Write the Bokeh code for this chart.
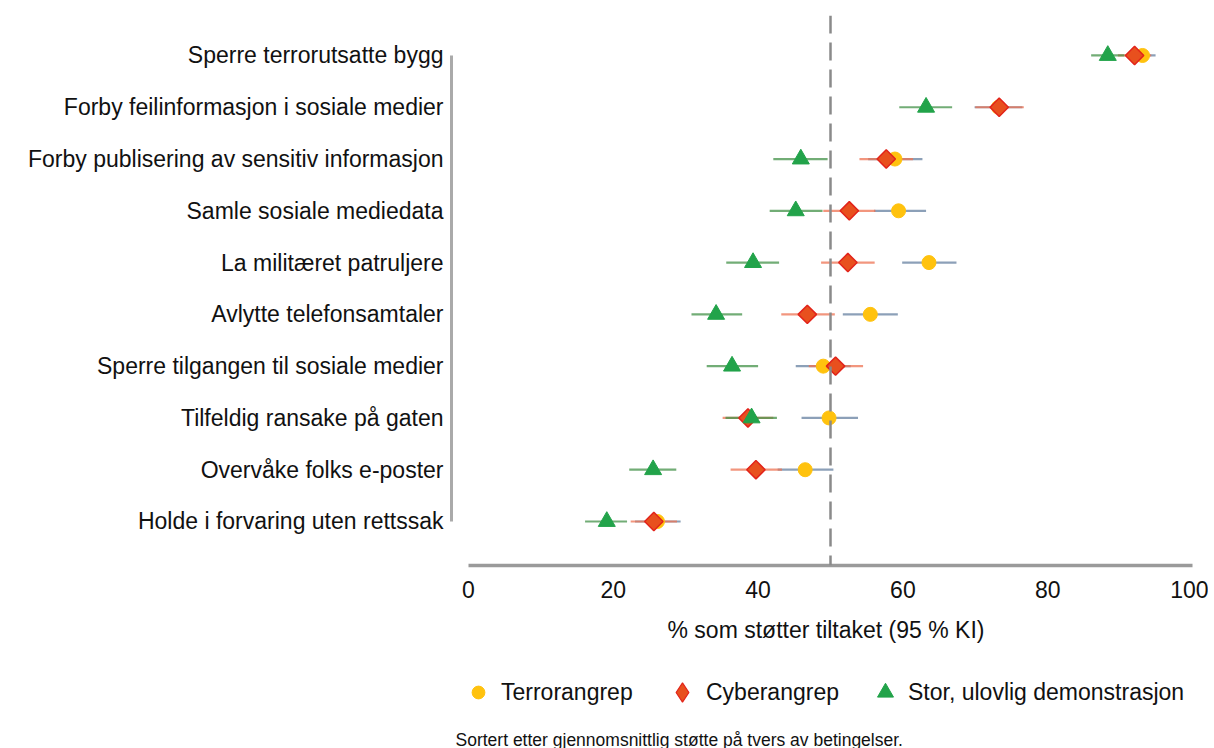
import numpy as np
from bokeh.plotting import figure
from bokeh.layouts import column
from bokeh.models import (Range1d, Span, Legend, LegendItem, FixedTicker, Label,
                          ColumnDataSource)
from bokeh.embed import file_html
from bokeh.resources import INLINE

categories = [
    "Sperre terrorutsatte bygg",
    "Forby feilinformasjon i sosiale medier",
    "Forby publisering av sensitiv informasjon",
    "Samle sosiale mediedata",
    "La militæret patruljere",
    "Avlytte telefonsamtaler",
    "Sperre tilgangen til sosiale medier",
    "Tilfeldig ransake på gaten",
    "Overvåke folks e-poster",
    "Holde i forvaring uten rettssak",
]
terror = [93.1, 73.2, 58.9, 59.4, 63.6, 55.5, 49.0, 49.8, 46.5, 26.1]
terror_lo = [91.3, 69.9, 55.2, 56.0, 59.9, 51.7, 45.2, 46.0, 42.7, 23.0]
terror_hi = [94.9, 76.5, 62.7, 63.2, 67.4, 59.3, 52.8, 53.8, 50.4, 29.3]
cyber = [92.0, 73.3, 57.7, 52.6, 52.4, 46.8, 50.7, 38.6, 39.7, 25.6]
cyber_lo = [89.7, 70.0, 54.0, 49.0, 48.7, 43.2, 47.0, 35.1, 36.2, 22.4]
cyber_hi = [94.3, 76.7, 61.4, 56.2, 56.1, 50.6, 54.5, 42.1, 43.3, 28.8]
demo = [88.3, 63.2, 45.9, 45.2, 39.3, 34.2, 36.4, 39.1, 25.5, 19.1]
demo_lo = [86.0, 59.5, 42.1, 41.6, 35.6, 30.8, 32.9, 35.5, 22.2, 16.1]
demo_hi = [90.6, 66.8, 49.6, 48.9, 42.9, 37.8, 40.0, 42.6, 28.7, 21.9]
series_names = ["Terrorangrep", "Cyberangrep", "Stor, ulovlig demonstrasjon"]
x_ticks = [0, 20, 40, 60, 80, 100]
footnote = "Sortert etter gjennomsnittlig støtte på tvers av betingelser."

n = len(categories)
ypos = list(range(n, 0, -1))
FONT = "Liberation Sans"
TXT = "#111111"
C_TERROR, C_CYBER, C_CYBER_LINE, C_DEMO = "#FFC20E", "#E8501E", "#E2231A", "#22A34A"

p = figure(width=1208, height=655, output_backend="svg", toolbar_location=None,
           x_range=Range1d(-2.348, 101.105), y_range=Range1d(0.150, 10.772),
           min_border_left=451, min_border_top=15, min_border_right=8,
           min_border_bottom=90)
p.outline_line_color = None
p.grid.visible = False

src = ColumnDataSource(dict(y=ypos, terror=terror, terror_lo=terror_lo, terror_hi=terror_hi,
                            cyber=cyber, cyber_lo=cyber_lo, cyber_hi=cyber_hi,
                            demo=demo, demo_lo=demo_lo, demo_hi=demo_hi))

p.add_layout(Span(location=50, dimension="height", line_color="#8a8a8a",
                  line_width=2.5, line_dash="18 9"))

p.segment(x0="terror_lo", x1="terror_hi", y0="y", y1="y", source=src,
          line_color="#6680a0", line_alpha=0.75, line_width=2.2)
p.segment(x0="cyber_lo", x1="cyber_hi", y0="y", y1="y", source=src,
          line_color="#ee7353", line_alpha=0.75, line_width=2.2)
p.segment(x0="demo_lo", x1="demo_hi", y0="y", y1="y", source=src,
          line_color="#439248", line_alpha=0.75, line_width=2.2)

p.scatter(x="terror", y="y", source=src, marker="circle", size=14,
          fill_color=C_TERROR, line_color=C_TERROR)
p.scatter(x="cyber", y="y", source=src, marker="square", angle=np.pi / 4, size=13,
          fill_color=C_CYBER, line_color=C_CYBER_LINE, line_width=1.5)
p.scatter(x="demo", y="y", source=src, marker="triangle", size=17,
          fill_color=C_DEMO, line_color=C_DEMO)

# axes
p.yaxis.ticker = FixedTicker(ticks=ypos)
p.yaxis.major_label_overrides = {y: c for y, c in zip(ypos, categories)}
p.yaxis.bounds = (1, 10)
p.yaxis.axis_line_color = "#aaaaaa"
p.yaxis.axis_line_width = 3
p.yaxis.major_tick_line_color = None
p.yaxis.minor_tick_line_color = None
p.yaxis.major_label_standoff = 2
p.yaxis.major_label_text_font = FONT
p.yaxis.major_label_text_font_size = "23px"
p.yaxis.major_label_text_color = TXT

p.xaxis.ticker = FixedTicker(ticks=x_ticks)
p.xaxis.bounds = (0, 100)
p.xaxis.axis_line_color = "#9a9a9a"
p.xaxis.axis_line_width = 3.5
p.xaxis.major_tick_line_color = None
p.xaxis.minor_tick_line_color = None
p.xaxis.major_label_standoff = 9
p.xaxis.major_label_text_font = FONT
p.xaxis.major_label_text_font_size = "23px"
p.xaxis.major_label_text_color = TXT
p.xaxis.axis_label = "% som støtter tiltaket (95 % KI)"
p.xaxis.axis_label_standoff = 16
p.xaxis.axis_label_text_font = FONT
p.xaxis.axis_label_text_font_size = "23px"
p.xaxis.axis_label_text_font_style = "normal"
p.xaxis.axis_label_text_color = TXT

# legend + footnote strip (its frame is aligned with the main frame: left edge at x=451)
H2 = 93
FRAME_LEFT = 451
p2 = figure(width=1208, height=H2, output_backend="svg", toolbar_location=None,
            x_range=Range1d(0, 1), y_range=Range1d(0, 1),
            min_border_left=0, min_border_right=0,
            min_border_top=0, min_border_bottom=0)
p2.axis.visible = False
p2.grid.visible = False
p2.outline_line_color = None

# legend proxies: the first point of each series, which lies outside this strip's ranges
g1 = p2.scatter(x="x", y="y", source=ColumnDataSource(dict(x=[terror[0]], y=[ypos[0]])),
                marker="circle", fill_color=C_TERROR, line_color=C_TERROR)
g2 = p2.scatter(x="x", y="y", source=ColumnDataSource(dict(x=[cyber[0]], y=[ypos[0]])),
                marker="diamond", fill_color=C_CYBER, line_color=C_CYBER_LINE, line_width=1.2)
g3 = p2.scatter(x="x", y="y", source=ColumnDataSource(dict(x=[demo[0]], y=[ypos[0]])),
                marker="triangle", fill_color=C_DEMO, line_color=C_DEMO)

legend_center_y = H2 - 37
for rend, name, box, cx, standoff in [(g1, series_names[0], 32, 478, 7),
                                      (g2, series_names[1], 48, 682, 0),
                                      (g3, series_names[2], 40, 885, 3)]:
    lg = Legend(items=[LegendItem(label=name, renderers=[rend], index=0)],
                location=(cx - FRAME_LEFT - box / 2, legend_center_y - box / 2),
                glyph_width=box, glyph_height=box, label_standoff=standoff,
                label_text_font=FONT, label_text_font_size="23px",
                label_text_color=TXT, label_height=box,
                border_line_color=None, background_fill_alpha=0,
                padding=0, margin=0)
    p2.add_layout(lg)

p2.add_layout(Label(x=455 - FRAME_LEFT, y=9, x_units="screen", y_units="screen",
                    text=footnote, text_font=FONT, text_font_size="17.5px",
                    text_color=TXT, text_baseline="middle", text_align="left"))

layout = column(p, p2, spacing=0)
open("out.html", "w").write(file_html(layout, INLINE))
